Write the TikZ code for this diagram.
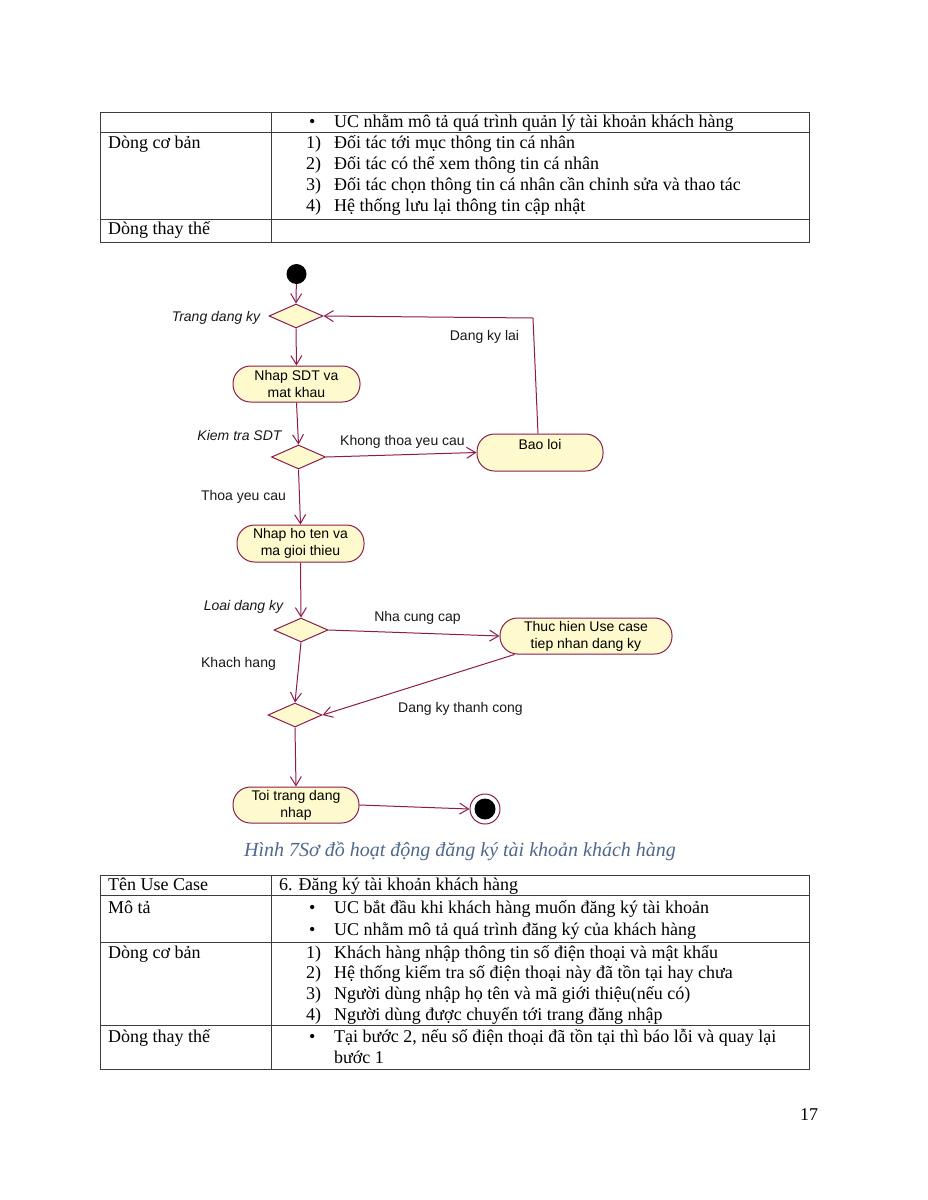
\documentclass[tikz,border=0pt]{standalone}
\usepackage{fontspec}
\setmainfont{Liberation Serif}
\newfontfamily\diagfont{Liberation Sans}
\usetikzlibrary{shapes.geometric,arrows.meta}
\definecolor{rose}{RGB}{140,28,78}
\definecolor{actfill}{RGB}{254,250,206}
\definecolor{capblue}{RGB}{79,104,140}
\definecolor{tabline}{RGB}{60,60,60}
\begin{document}
\begin{tikzpicture}[x=1pt,y=-1pt,
  tabtxt/.style={font=\fontsize{18}{21}\selectfont, anchor=base west, inner sep=0pt},
  tabrule/.style={draw=tabline, line width=1pt},
  act/.style={draw=rose, fill=actfill, rounded corners=17.5pt, line width=1pt, inner sep=0pt,
    align=center, font=\diagfont\fontsize{14}{17}\selectfont, text=black},
  dec/.style={diamond, draw=rose, fill=actfill, line width=1pt, inner sep=0pt,
    minimum width=54pt, minimum height=24pt},
  flow/.style={draw=rose, line width=1pt, -{Straight Barb[length=9pt,width=11pt,line width=1pt]}},
  lbl/.style={font=\diagfont\fontsize{14}{17}\selectfont, text=black!90, inner sep=0pt, anchor=base},
  guard/.style={font=\diagfont\itshape\fontsize{14}{17}\selectfont, text=black!90, inner sep=0pt, anchor=base}
]
\fill[white] (0,0) rectangle (927,1200);
\useasboundingbox (0,0) rectangle (927,1200);

% ---------- top table ----------
\draw[tabrule] (100,112) rectangle (809,242);
\draw[tabrule] (100,132) -- (809,132);
\draw[tabrule] (100,219) -- (809,219);
\draw[tabrule] (271,112) -- (271,242);
\node[tabtxt] (t1b) at (309,127) {•};
\node[tabtxt] (t1) at (334,127) {UC nhằm mô tả quá trình quản lý tài khoản khách hàng};
\node[tabtxt] (t2) at (108,148) {Dòng cơ bản};
\node[tabtxt] (t2n1) at (306,148) {1)};
\node[tabtxt] (t2a) at (334,148) {Đối tác tới mục thông tin cá nhân};
\node[tabtxt] (t2n2) at (306,169) {2)};
\node[tabtxt] (t2b) at (334,169) {Đối tác có thể xem thông tin cá nhân};
\node[tabtxt] (t2n3) at (306,190) {3)};
\node[tabtxt] (t2c) at (334,190) {Đối tác chọn thông tin cá nhân cần chỉnh sửa và thao tác};
\node[tabtxt] (t2n4) at (306,211) {4)};
\node[tabtxt] (t2d) at (334,211) {Hệ thống lưu lại thông tin cập nhật};
\node[tabtxt] (t3) at (108,234) {Dòng thay thế};

% ---------- diagram ----------
\node[circle, fill=black, minimum size=20pt, inner sep=0pt] (start) at (296.5,274) {};
\node[dec] (d1) at (296,316) {};
\node[act, minimum width=127pt, minimum height=36pt] (sdt) at (296.5,384) {Nhap SDT va\\mat khau};
\node[dec] (d2) at (298.5,457) {};
\node[act, minimum width=126pt, minimum height=37pt] (bao) at (540,452.5) {Bao loi\\[0pt]\phantom{X}};
\node[act, minimum width=127pt, minimum height=37pt] (hoten) at (300.5,543.5) {Nhap ho ten va\\ma gioi thieu};
\node[dec] (d3) at (301,630) {};
\node[act, minimum width=172pt, minimum height=36pt] (thuc) at (586,636) {Thuc hien Use case\\tiep nhan dang ky};
\node[dec] (d4) at (295,715) {};
\node[act, minimum width=126pt, minimum height=36pt] (toi) at (296,805) {Toi trang dang\\nhap};
\node[circle, draw=rose, fill=white, line width=1pt, minimum size=30pt, inner sep=0pt] (endc) at (485,809) {};
\node[circle, fill=black, minimum size=21pt, inner sep=0pt] (endin) at (endc) {};

\coordinate (loop) at (533,318);
\draw[flow] (start) -- (d1.north);
\draw[flow] (d1.south) -- (sdt.north);
\draw[flow] (sdt.south) -- (d2.north);
\draw[flow] (d2.east) -- (bao.west);
\draw[flow] ([xshift=-2pt]bao.north) -- (loop) -- (d1.east);
\draw[flow] (d2.south) -- (hoten.north);
\draw[flow] (hoten.south) -- (d3.north);
\draw[flow] (d3.east) -- (thuc.west);
\draw[flow] (d3.south) -- (d4.north);
\draw[flow] ([xshift=15pt]thuc.south west) -- (d4.east);
\draw[flow] (d4.south) -- (toi.north);
\draw[flow] (toi.east) -- (endc.west);

\node[guard] (g1) at (216,321) {Trang dang ky};
\node[guard] (g2) at (239.5,440) {Kiem tra SDT};
\node[guard] (g3) at (243.5,610) {Loai dang ky};
\node[lbl] (l1) at (484.5,340) {Dang ky lai};
\node[lbl] (l2) at (402.5,445) {Khong thoa yeu cau};
\node[lbl] (l3) at (243.5,500) {Thoa yeu cau};
\node[lbl] (l4) at (417.5,621) {Nha cung cap};
\node[lbl] (l5) at (238.5,667) {Khach hang};
\node[lbl] (l6) at (460.5,712) {Dang ky thanh cong};

\node[font=\itshape\fontsize{20}{22}\selectfont, text=capblue, anchor=base, inner sep=0pt] (cap) at (460,856) {Hình 7Sơ đồ hoạt động đăng ký tài khoản khách hàng};

% ---------- bottom table ----------
\draw[tabrule] (100,875) rectangle (809,1069);
\draw[tabrule] (100,895) -- (809,895);
\draw[tabrule] (100,942) -- (809,942);
\draw[tabrule] (100,1025) -- (809,1025);
\draw[tabrule] (271,875) -- (271,1069);
\node[tabtxt] (b1) at (108,890) {Tên Use Case};
\node[tabtxt] (b1v) at (279,890) {6. Đăng ký tài khoản khách hàng};
\node[tabtxt] (b2) at (108,913) {Mô tả};
\node[tabtxt] (b2p1) at (309,913) {•};
\node[tabtxt] (b2a) at (334,913) {UC bắt đầu khi khách hàng muốn đăng ký tài khoản};
\node[tabtxt] (b2p2) at (309,935) {•};
\node[tabtxt] (b2b) at (334,935) {UC nhằm mô tả quá trình đăng ký của khách hàng};
\node[tabtxt] (b3) at (108,958) {Dòng cơ bản};
\node[tabtxt] (b3n1) at (306,958) {1)};
\node[tabtxt] (b3a) at (334,958) {Khách hàng nhập thông tin số điện thoại và mật khẩu};
\node[tabtxt] (b3n2) at (306,978) {2)};
\node[tabtxt] (b3b) at (334,978) {Hệ thống kiểm tra số điện thoại này đã tồn tại hay chưa};
\node[tabtxt] (b3n3) at (306,999) {3)};
\node[tabtxt] (b3c) at (334,999) {Người dùng nhập họ tên và mã giới thiệu(nếu có)};
\node[tabtxt] (b3n4) at (306,1020) {4)};
\node[tabtxt] (b3d) at (334,1020) {Người dùng được chuyển tới trang đăng nhập};
\node[tabtxt] (b4) at (108,1042) {Dòng thay thế};
\node[tabtxt] (b4p) at (309,1042) {•};
\node[tabtxt] (b4a) at (334,1042) {Tại bước 2, nếu số điện thoại đã tồn tại thì báo lỗi và quay lại};
\node[tabtxt] (b4b) at (334,1063) {bước 1};

\node[tabtxt] (pg) at (800,1120) {17};
\end{tikzpicture}
\end{document}
